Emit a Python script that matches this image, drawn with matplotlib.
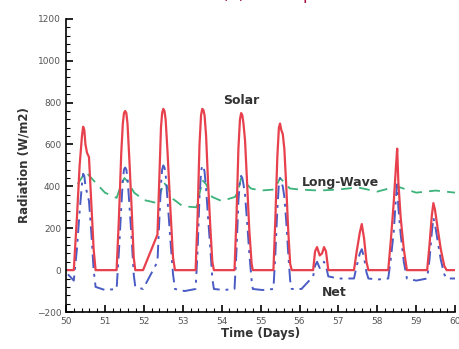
import matplotlib.pyplot as plt
from matplotlib.ticker import MultipleLocator

plt.rcParams['font.family'] = ['DejaVu Sans']

# time (days), solar and net radiation (W/m2)
t = [50.05, 50.20, 50.28, 50.35, 50.41, 50.44, 50.47, 50.50, 50.54, 50.59, 50.65, 50.71, 50.76,
     51.00, 51.30, 51.36, 51.42, 51.46, 51.49, 51.52, 51.55, 51.58, 51.63, 51.69, 51.74, 51.78,
     51.98, 52.35, 52.40, 52.44, 52.47, 52.50, 52.53, 52.56, 52.61, 52.68, 52.75, 52.80,
     53.05, 53.33, 53.38, 53.43, 53.47, 53.50, 53.53, 53.56, 53.60, 53.65, 53.71, 53.76, 53.80,
     54.05, 54.33, 54.38, 54.43, 54.47, 54.50, 54.53, 54.56, 54.60, 54.65, 54.71, 54.77, 54.80,
     55.05, 55.33, 55.38, 55.43, 55.47, 55.50, 55.53, 55.57, 55.61, 55.66, 55.71, 55.76, 55.80,
     56.05, 56.20, 56.35, 56.40, 56.45, 56.52, 56.58, 56.63, 56.68, 56.74,
     57.00, 57.40, 57.47, 57.55, 57.60, 57.66, 57.72, 57.77,
     58.00, 58.28, 58.35, 58.42, 58.48, 58.51, 58.54, 58.60, 58.68, 58.76,
     59.00, 59.28, 59.34, 59.40, 59.44, 59.48, 59.55, 59.63, 59.72, 59.78, 60.00]
solar = [0, 0, 250, 500, 640, 685, 670, 600, 560, 540, 320, 100, 0,
         0, 0, 250, 560, 700, 750, 760, 750, 700, 520, 280, 60, 0,
         0, 170, 450, 680, 750, 770, 760, 720, 560, 300, 60, 0,
         0, 0, 250, 600, 740, 770, 765, 740, 640, 420, 200, 40, 0,
         0, 0, 250, 580, 720, 750, 740, 700, 620, 430, 190, 30, 0,
         0, 0, 250, 540, 680, 700, 670, 650, 580, 400, 190, 30, 0,
         0, 0, 0, 90, 110, 70, 80, 110, 90, 0,
         0, 0, 90, 180, 220, 150, 40, 0,
         0, 0, 150, 320, 500, 580, 420, 250, 100, 0,
         0, 0, 120, 260, 320, 290, 200, 100, 20, 0, 0]
net = [-20, -50, 100, 280, 410, 460, 450, 400, 370, 330, 180, 0, -80,
       -95, -90, 90, 300, 430, 480, 490, 480, 440, 310, 140, -20, -80,
       -90, 40, 250, 410, 480, 500, 490, 460, 330, 150, -20, -90,
       -100, -90, 90, 350, 470, 500, 495, 470, 390, 250, 100, -40, -90,
       -95, -90, 90, 330, 430, 450, 440, 410, 360, 240, 80, -50, -90,
       -95, -90, 80, 290, 410, 440, 420, 400, 350, 230, 80, -50, -90,
       -90, -60, -30, 20, 40, 10, 20, 40, 20, -30,
       -40, -40, 20, 80, 100, 60, -10, -40,
       -45, -40, 60, 180, 350, 410, 300, 170, 40, -40,
       -50, -40, 50, 180, 250, 220, 140, 50, -20, -40, -40]

# long-wave radiation
t_lw = [50.30, 50.40, 50.50, 50.60, 50.75, 51.00, 51.30, 51.40, 51.50, 51.60, 51.75,
        52.00, 52.35, 52.45, 52.50, 52.60, 52.75, 53.00, 53.35, 53.45, 53.50, 53.60,
        53.75, 54.00, 54.35, 54.45, 54.50, 54.60, 54.75, 55.00, 55.35, 55.45, 55.50,
        55.60, 55.75, 56.00, 56.50, 57.00, 57.50, 58.00, 58.50, 59.00, 59.50, 60.00]
longwave = [410, 440, 470, 450, 420, 370, 345, 400, 440, 420, 370,
            335, 320, 380, 420, 400, 340, 305, 300, 380, 430, 410,
            350, 330, 350, 400, 440, 420, 390, 380, 385, 420, 440,
            420, 390, 385, 380, 385, 395, 375, 400, 370, 380, 370]

fig = plt.figure(figsize=(4.6, 3.49), dpi=100)
ax = fig.add_axes([0.1435, 0.106, 0.846, 0.84])

ax.plot(t_lw, longwave, color='#3cb37a', linestyle=(0, (6, 4)), lw=1.3)
ax.plot(t, net, color='#4a5cc4', linestyle=(0, (7, 3, 1.5, 3)), lw=1.4)
ax.plot(t, solar, color='#e8414e', lw=1.6)

ax.set_xlim(50, 60)
ax.set_ylim(-200, 1200)
ax.xaxis.set_major_locator(MultipleLocator(1))
ax.xaxis.set_minor_locator(MultipleLocator(0.2))
ax.yaxis.set_major_locator(MultipleLocator(200))
ax.yaxis.set_minor_locator(MultipleLocator(40))
ax.tick_params(which='both', direction='in', labelsize=6.5, labelcolor='#555555')
ax.tick_params(which='major', length=5, width=1.2)
ax.tick_params(which='minor', length=3, width=0.8)
ax.spines['top'].set_visible(False)
ax.spines['right'].set_visible(False)
ax.spines['left'].set_linewidth(1.2)
ax.spines['bottom'].set_linewidth(1.2)

ax.set_xlabel('Time (Days)', fontsize=8.5, fontweight='bold', color='#333333', labelpad=1)
ax.set_ylabel('Radiation (W/m2)', fontsize=8.5, fontweight='bold', color='#333333', labelpad=4)

ax.text(54.5, 795, 'Solar', fontsize=9, fontweight='bold', color='#333333', ha='center')
ax.text(57.05, 400, 'Long-Wave', fontsize=9, fontweight='bold', color='#333333', ha='center')
ax.text(56.9, -125, 'Net', fontsize=9, fontweight='bold', color='#333333', ha='center')

# title, cut off at the top edge as in the source
fig.text(222 / 460, 1 + 1 / 349, '(a) Atmospheric Radiation', fontsize=12,
         color='#a3123a', ha='left', va='baseline')

fig.savefig('out.png', dpi=100)
